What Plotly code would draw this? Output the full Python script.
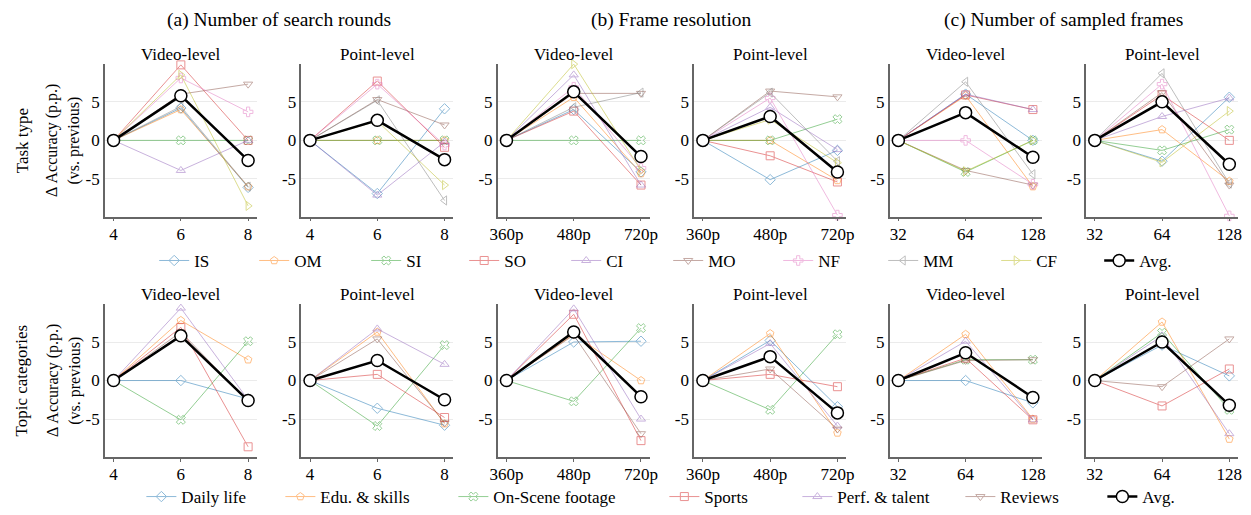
import plotly.graph_objects as go

# x categories for the three ablations
rounds = ["4", "6", "8"]
resolutions = ["360p", "480p", "720p"]
frames = ["32", "64", "128"]

task_names = ["IS", "OM", "SI", "SO", "CI", "MO", "NF", "MM", "CF"]
topic_names = ["Daily life", "Edu. & skills", "On-Scene footage", "Sports",
               "Perf. & talent", "Reviews"]

# --- Task type (top row), delta accuracy vs previous setting ---
task_rounds_video = {
    "IS": [0, 4.2, -6.1], "OM": [0, 4.0, -6.0], "SI": [0, 0, 0],
    "SO": [0, 9.8, 0], "CI": [0, -3.9, 0], "MO": [0, 6.0, 7.3],
    "NF": [0, 8.1, 3.7], "MM": [0, 4.4, -6.0], "CF": [0, 8.5, -8.5],
    "Avg.": [0, 5.8, -2.6],
}
task_rounds_point = {
    "IS": [0, -6.9, 4.1], "OM": [0, 0, 0], "SI": [0, 0, 0],
    "SO": [0, 7.7, -0.9], "CI": [0, -7.1, -0.2], "MO": [0, 5.3, 2.0],
    "NF": [0, 7.3, -0.6], "MM": [0, 5.2, -7.8], "CF": [0, 2.5, -5.8],
    "Avg.": [0, 2.6, -2.5],
}
task_res_video = {
    "IS": [0, 4.0, -4.1], "OM": [0, 5.6, -4.3], "SI": [0, 0, 0],
    "SO": [0, 3.8, -5.8], "CI": [0, 8.5, -5.8], "MO": [0, 6.1, 6.1],
    "NF": [0, 6.9, -3.6], "MM": [0, 4.3, 6.2], "CF": [0, 9.9, -3.9],
    "Avg.": [0, 6.3, -2.1],
}
task_res_point = {
    "IS": [0, -5.1, -1.3], "OM": [0, 0, -5.2], "SI": [0, 0, 2.75],
    "SO": [0, -2.0, -5.4], "CI": [0, 4.3, -1.2], "MO": [0, 6.4, 5.65],
    "NF": [0, 5.5, -9.7], "MM": [0, 6.2, -2.7], "CF": [0, 2.7, -2.9],
    "Avg.": [0, 3.1, -4.1],
}
task_frames_video = {
    "IS": [0, 6.0, 0], "OM": [0, 5.8, -6.0], "SI": [0, -4.1, 0],
    "SO": [0, 5.9, 4.0], "CI": [0, 6.0, 4.0], "MO": [0, -3.9, -5.8],
    "NF": [0, 0, -5.7], "MM": [0, 7.6, -4.4], "CF": [0, -4.0, 0],
    "Avg.": [0, 3.6, -2.2],
}
task_frames_point = {
    "IS": [0, -2.7, 5.6], "OM": [0, 1.4, -5.3], "SI": [0, -1.3, 1.4],
    "SO": [0, 5.9, 0], "CI": [0, 3.1, 5.5], "MO": [0, 6.2, -5.8],
    "NF": [0, 7.3, -9.8], "MM": [0, 8.7, -5.6], "CF": [0, -2.85, 3.8],
    "Avg.": [0, 5.0, -3.1],
}

# --- Topic categories (bottom row) ---
topic_rounds_video = {
    "Daily life": [0, 0, -2.4], "Edu. & skills": [0, 7.8, 2.7],
    "On-Scene footage": [0, -5.1, 5.1], "Sports": [0, 6.9, -8.6],
    "Perf. & talent": [0, 9.4, -2.5], "Reviews": [0, 6.3, -2.7],
    "Avg.": [0, 5.8, -2.6],
}
topic_rounds_point = {
    "Daily life": [0, -3.6, -5.8], "Edu. & skills": [0, 6.3, -5.6],
    "On-Scene footage": [0, -5.9, 4.6], "Sports": [0, 0.8, -4.8],
    "Perf. & talent": [0, 6.7, 2.1], "Reviews": [0, 5.4, -5.5],
    "Avg.": [0, 2.6, -2.5],
}
topic_res_video = {
    "Daily life": [0, 5.0, 5.1], "Edu. & skills": [0, 6.0, 0],
    "On-Scene footage": [0, -2.7, 6.8], "Sports": [0, 8.6, -7.8],
    "Perf. & talent": [0, 9.3, -5.0], "Reviews": [0, 5.9, -6.9],
    "Avg.": [0, 6.3, -2.1],
}
topic_res_point = {
    "Daily life": [0, 5.2, -3.4], "Edu. & skills": [0, 6.1, -6.8],
    "On-Scene footage": [0, -3.8, 6.0], "Sports": [0, 0.8, -0.8],
    "Perf. & talent": [0, 4.8, -5.9], "Reviews": [0, 1.5, -6.3],
    "Avg.": [0, 3.1, -4.2],
}
topic_frames_video = {
    "Daily life": [0, 0, -2.9], "Edu. & skills": [0, 6.0, -5.0],
    "On-Scene footage": [0, 2.7, 2.7], "Sports": [0, 2.9, -5.1],
    "Perf. & talent": [0, 5.1, -5.1], "Reviews": [0, 2.6, 2.7],
    "Avg.": [0, 3.6, -2.2],
}
topic_frames_point = {
    "Daily life": [0, 4.6, 0.6], "Edu. & skills": [0, 7.6, -7.6],
    "On-Scene footage": [0, 6.2, -3.8], "Sports": [0, -3.3, 1.5],
    "Perf. & talent": [0, 5.8, -6.9], "Reviews": [0, -0.8, 5.4],
    "Avg.": [0, 5.0, -3.2],
}

colors = ["#1f77b4", "#ff7f0e", "#2ca02c", "#d62728", "#9467bd",
          "#8c564b", "#e377c2", "#7f7f7f", "#bcbd22"]
symbols = ["diamond-open", "pentagon-open", "x-open", "square-open",
           "triangle-up-open", "triangle-down-open", "cross-open",
           "triangle-left-open", "triangle-right-open"]
# legend entry widths (px) so spacing matches the reference
task_lw = [55, 67, 53, 57, 57, 65, 60, 68, 58, 40]
topic_lw = [94, 128, 166, 88, 118, 97, 40]

# page body adds an 8px offset, so the figure is 8px smaller and shifted
OFF = 8
W, H = 1251 - OFF, 515 - OFF
FONT = "Liberation Serif"


def px(p):
    return (p - OFF) / W


def py(p):
    return 1 - (p - OFF) / H


lefts = [98, 297, 496, 695, 893, 1092]
PW = 154
rows_px = [(65, 220), (309, 464)]

panels = [
    [(rounds, task_rounds_video), (rounds, task_rounds_point),
     (resolutions, task_res_video), (resolutions, task_res_point),
     (frames, task_frames_video), (frames, task_frames_point)],
    [(rounds, topic_rounds_video), (rounds, topic_rounds_point),
     (resolutions, topic_res_video), (resolutions, topic_res_point),
     (frames, topic_frames_video), (frames, topic_frames_point)],
]

fig = go.Figure()
layout = {}
annotations = []

for r, row in enumerate(panels):
    names = task_names if r == 0 else topic_names
    lws = task_lw if r == 0 else topic_lw
    leg = "legend" if r == 0 else "legend2"
    top, bot = rows_px[r]
    for c, (cats, data) in enumerate(row):
        n = r * 6 + c + 1
        xa = "x" if n == 1 else f"x{n}"
        ya = "y" if n == 1 else f"y{n}"
        for i, name in enumerate(names):
            fig.add_trace(go.Scatter(
                x=cats, y=data[name], xaxis=xa, yaxis=ya, name=name,
                mode="lines+markers", legend=leg, legendgroup=f"{r}-{name}",
                showlegend=(c == 0), legendwidth=lws[i],
                line=dict(color=colors[i], width=1),
                marker=dict(symbol=symbols[i], size=8, color=colors[i],
                            line=dict(width=1, color=colors[i])),
                opacity=0.5, cliponaxis=False,
            ))
        fig.add_trace(go.Scatter(
            x=cats, y=data["Avg."], xaxis=xa, yaxis=ya, name="Avg.",
            mode="lines+markers", legend=leg, legendgroup=f"{r}-avg",
            showlegend=(c == 0), legendwidth=lws[-1],
            line=dict(color="black", width=2.5),
            marker=dict(symbol="circle", size=12, color="white",
                        line=dict(width=1.5, color="black")),
            cliponaxis=False,
        ))
        xkey = "xaxis" if n == 1 else f"xaxis{n}"
        ykey = "yaxis" if n == 1 else f"yaxis{n}"
        layout[xkey] = dict(
            domain=[px(lefts[c]), px(lefts[c] + PW)], anchor=ya,
            type="category", range=[-0.13, 2.13],
            showline=True, linecolor="#666", linewidth=1.5,
            ticks="outside", ticklen=3, tickcolor="#666", tickwidth=1.2,
            ticklabelstandoff=-2,
            showgrid=False, zeroline=False,
            tickfont=dict(family=FONT, size=17, color="black"),
        )
        layout[ykey] = dict(
            domain=[py(bot), py(top)], anchor=xa,
            range=[-9.9, 9.9], tickvals=[-5, 0, 5], ticktext=["-5", "0", "5"],
            showline=True, linecolor="#666", linewidth=1.5,
            ticks="", showgrid=True, gridcolor="#ebebeb", gridwidth=1,
            zeroline=False,
            tickfont=dict(family=FONT, size=17, color="black"),
        )
        annotations.append(dict(
            text="Video-level" if c % 2 == 0 else "Point-level",
            x=px(lefts[c] + PW / 2), y=py(top - 10),
            xref="paper", yref="paper", showarrow=False,
            xanchor="center", yanchor="middle",
            font=dict(family=FONT, size=17, color="black"),
        ))

col_titles = ["(a) Number of search rounds", "(b) Frame resolution",
              "(c) Number of sampled frames"]
for k, t in enumerate(col_titles):
    cx = (lefts[2 * k] + lefts[2 * k + 1] + PW) / 2
    annotations.append(dict(
        text=t, x=px(cx), y=py(20), xref="paper", yref="paper",
        showarrow=False, xanchor="center", yanchor="middle",
        font=dict(family=FONT, size=19.5, color="black"),
    ))

row_titles = ["Task type", "Topic categories"]
for r, t in enumerate(row_titles):
    top, bot = rows_px[r]
    cy = py((top + bot) / 2)
    for text, x in [(t, 14), ("Δ Accuracy (p.p.)", 45), ("(vs. previous)", 67)]:
        annotations.append(dict(
            text=text, x=px(x), y=cy, xref="paper", yref="paper",
            textangle=-90, showarrow=False, xanchor="center",
            yanchor="middle",
            font=dict(family=FONT, size=17 if x == 14 else 16,
                      color="black"),
        ))

legend_style = dict(
    orientation="h", xanchor="left", yanchor="middle",
    font=dict(family=FONT, size=17, color="black"),
    bgcolor="rgba(0,0,0,0)", borderwidth=0,
)

fig.update_layout(
    width=W, height=H,
    margin=dict(l=0, r=0, t=0, b=0),
    paper_bgcolor="white", plot_bgcolor="white",
    font=dict(family=FONT, size=17, color="black"),
    annotations=annotations,
    legend=dict(x=px(148), y=py(265), **legend_style),
    legend2=dict(x=px(135), y=py(505), **legend_style),
    **layout,
)

fig.write_html("out.html")
